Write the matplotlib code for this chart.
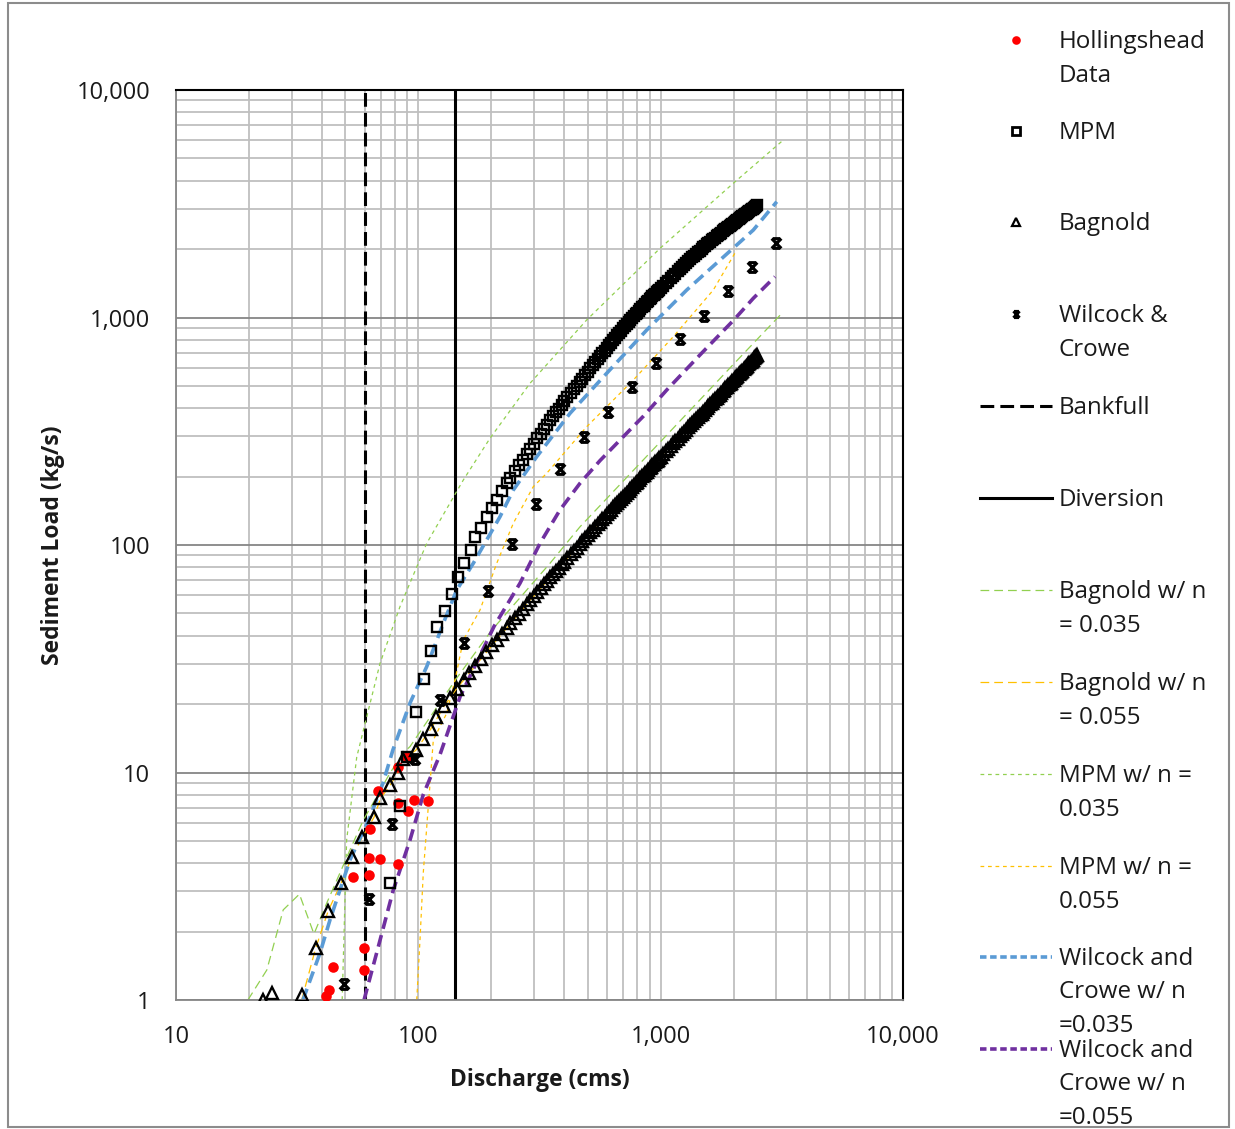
import matplotlib
matplotlib.use("Agg")
import matplotlib.pyplot as plt
from matplotlib.lines import Line2D
from matplotlib.patches import Rectangle
from matplotlib.path import Path
from matplotlib.ticker import FixedLocator, FuncFormatter, NullFormatter

# ---------------- data ----------------
# Measured sediment load (Hollingshead)
holl_q = [68.4, 82.2, 90.0, 82.6, 90.9, 95.9, 109.3, 63.2, 62.8, 69.5, 82.2,
          53.9, 62.8, 59.8, 59.8, 44.6, 42.6, 41.7]
holl_load = [8.32, 10.6, 11.7, 7.32, 6.79, 7.57, 7.47, 5.63, 4.22, 4.18, 3.96,
             3.46, 3.54, 1.69, 1.355, 1.39, 1.11, 1.04]

# Discharge steps shared by the MPM and Bagnold computed series
q_steps = [240, 250, 260, 270, 280, 290, 300, 310, 320, 330, 340, 350, 360,
           370, 380, 390, 400,
           412.5, 425, 437.5, 450, 462.5, 475, 487.5, 500, 512.5, 525, 537.5,
           550, 562.5, 575, 587.5, 600, 612.5, 625, 637.5, 650, 662.5, 675,
           687.5, 700, 712.5, 725, 737.5, 750, 762.5, 775, 787.5, 800, 812.5,
           825, 837.5, 850, 862.5, 875, 887.5, 900, 912.5, 925, 937.5, 950,
           962.5, 975, 987.5, 1000,
           1025, 1050, 1075, 1100, 1125, 1150, 1175, 1200, 1225, 1250, 1275,
           1300, 1325, 1350, 1375, 1400, 1425, 1450, 1475, 1500, 1525, 1550,
           1575, 1600, 1625, 1650, 1675, 1700, 1725, 1750, 1775, 1800, 1825,
           1850, 1875, 1900, 1925, 1950, 1975, 2000, 2025, 2050, 2075, 2100,
           2125, 2150, 2175, 2200, 2225, 2250, 2275, 2300, 2325, 2350, 2375,
           2400, 2425, 2450, 2475, 2500]

# Meyer-Peter Muller
mpm_q_low = [76.4, 84.0, 90.0, 97.8, 105.5, 112.8, 119.4, 128.8, 137.7, 145.8,
             154.3, 165.0, 171.3, 181.4, 191.4, 202.0, 210.6, 220.8, 231.6]
mpm_load = [3.27, 7.1, 11.7, 18.5, 25.8, 34.2, 43.6, 51.3, 60.9, 72.3,
            83.4, 95.1, 108.3, 118.4, 132.4, 145, 157.7, 173.3, 186.7,
            198, 211, 224, 237, 250.5, 264.6, 279, 294, 309, 323.5, 338, 353,
            368, 382.6, 397.5, 412.5, 427.5,
            445.8, 464, 482.8, 501.5, 520.3, 539, 558.5, 578, 597.5, 617,
            636.5, 656, 676, 696, 716, 736, 756, 776, 795.5, 815, 835, 855,
            875, 895, 914.5, 934, 953.5, 973, 992.5, 1012, 1031.5, 1051,
            1069.5, 1088, 1107, 1126, 1145, 1164, 1182.5, 1201, 1219, 1237,
            1255, 1273, 1291, 1309, 1327.5, 1346,
            1382, 1418, 1453.5, 1489, 1524.5, 1560, 1595.5, 1631, 1666.5, 1702,
            1736, 1770, 1804, 1838, 1872, 1906, 1938, 1970, 2001, 2032,
            2063.5, 2095, 2125.5, 2156, 2185.5, 2215, 2244.5, 2274, 2303.5,
            2333, 2361, 2389, 2416.5, 2444, 2471, 2498, 2525, 2552, 2578.5,
            2605, 2631, 2657, 2683, 2709, 2734.5, 2760, 2785.5, 2811, 2836.5,
            2862, 2887.5, 2913, 2938, 2963, 2987.5, 3012, 3036.5, 3061, 3085,
            3109]

# Bagnold
bag_q_low = [22.9, 24.8, 33.0, 37.7, 42.5, 48.1, 53.1, 58.7, 65.6, 69.8, 76.4,
             82.2, 86.5, 97.5, 104.8, 112.4, 118.2, 128.0, 135.2, 144.0,
             154, 162, 171, 181, 191, 202, 211, 221, 232]
bag_load = [1.0, 1.07, 1.05, 1.69, 2.47, 3.28, 4.24, 5.19, 6.35, 7.69, 8.77,
            9.95, 11.5, 12.5, 14.0, 15.5, 17.5, 19.6, 21.2, 23.4,
            25.6, 27.3, 29.3, 31.5, 33.8, 36.3, 38.4, 40.7, 43.3,
            45.2, 47.6, 49.9, 52.4, 54.8, 57.2, 59.7, 62.1, 64.6, 67.1, 69.6,
            72.1, 74.6, 77.0, 79.6, 82.1, 84.6,
            87.8, 91.0, 94.2, 97.4, 100.6, 103.9, 107.1, 110.4, 113.6, 116.8,
            120.0, 123.3, 126.5, 129.8, 133.1, 136.4, 139.7, 143.0, 146.3,
            149.6, 152.9, 156.3, 159.7, 163.1, 166.4, 169.7, 173.0, 176.4,
            179.8, 183.2, 186.5, 189.9, 193.3, 196.7, 200.1, 203.5, 206.9,
            210.3, 213.7, 217.1, 220.5, 223.9, 227.3, 230.7, 234.1, 237.5,
            241.2, 244.9,
            251.7, 258.6, 265.5, 272.5, 279.4, 286.4, 293.4, 300.5, 307.5,
            314.5, 321.5, 328.6, 335.6, 342.7, 349.8, 356.9, 364.1, 371.3,
            378.4, 385.6, 392.8, 400.0, 407.3, 414.6, 421.8, 429.1, 436.3,
            443.6, 451.0, 458.3, 465.6, 473.0, 480.4, 487.9, 495.2, 502.6,
            510.0, 517.3, 524.7, 532.1, 539.6, 547.2, 554.7, 562.2, 569.6,
            577.1, 584.6, 592.2, 599.7, 607.3, 614.8, 622.3, 629.9, 637.6,
            645.1, 652.7, 660.4, 668.1, 675.7, 683.3]

mpm_q = mpm_q_low + q_steps
bag_q = bag_q_low + q_steps

# Wilcock & Crowe
wc_q = [49.3, 62.6, 77.6, 96.9, 122.9, 154, 194, 243.6, 306, 385, 483, 604,
        758, 956, 1199, 1510, 1893, 2381, 2995]
wc_load = [1.18, 2.77, 5.92, 11.5, 20.8, 37.1, 62.8, 101, 151, 216, 299, 386,
           497, 632, 806, 1020, 1309, 1663, 2127]

# Reference discharges
bankfull_q = 60.0
diversion_q = 141.6

# Sensitivity runs with Manning's n
bag035_q = [19.8, 23.7, 27.7, 32.3, 37.1, 41.9, 47.5, 52.2, 59.3, 67.3, 76.4,
            86.7, 92.4, 144, 200, 349.4, 464.8, 1000, 2000, 3208]
bag035_load = [1.0, 1.355, 2.49, 2.92, 1.95, 2.67, 3.62, 4.56, 6.18, 7.83,
               9.95, 12.2, 13.0, 26.0, 42.0, 83.1, 120.3, 285, 624, 1060]

bag055_q = [33.0, 37.7, 42.5, 48.1, 53.1, 58.7, 65.6, 69.8, 76.4, 82.2, 86.5,
            97.5, 112.4, 128.0, 144.0, 202, 300, 500, 1000, 2000, 2500]
bag055_load = [1.0, 1.69, 2.47, 3.28, 4.24, 5.19, 6.35, 7.69, 8.77, 9.95,
               11.5, 12.5, 15.5, 19.6, 23.4, 36.3, 59.7, 110.4, 244.9, 532.1,
               683.3]

mpm035_q = [48.5, 50.6, 55.7, 69.5, 84.0, 108.3, 153.3, 197.6, 289, 495, 994,
            1994, 3208]
mpm035_load = [1.0, 5.05, 11.7, 30.2, 53.6, 101.7, 193, 294.6, 513.8, 975,
               2014, 3890, 6028]

mpm055_q = [98.5, 101.6, 104.8, 109.9, 115.3, 130.9, 141.7, 153.3, 179.7,
            210.6, 246.6, 298, 338.6, 495, 771, 1127, 1649, 2060]
mpm055_load = [1.0, 1.84, 3.62, 7.07, 13.9, 18.2, 25.5, 38.2, 51.8, 83.1,
               124.6, 180.4, 206.6, 331, 531, 823, 1321, 1980]

wc035_q = [33.4, 39.3, 43.2, 52.2, 63.2, 71.5, 78.6, 92.4, 108.3, 126.8, 144,
           168.6, 191.4, 217.3, 246.6, 308, 422.7, 598.8, 875.9, 1281, 1758,
           2412, 3013]
wc035_load = [1.0, 1.61, 2.25, 4.12, 6.39, 8.99, 12.6, 20.2, 29.2, 45.3, 63.4,
              83.1, 105.2, 133.2, 174.5, 244.5, 379.3, 568.6, 881, 1321, 1789,
              2424, 3228]

wc055_q = [59.7, 67.3, 78.8, 92.4, 104.8, 122.9, 148.6, 205.6, 262.7, 317.7,
           384, 464.5, 562, 771, 848, 1059, 1453, 1994, 2412, 2963]
wc055_load = [1.0, 1.61, 3.04, 5.05, 8.0, 12.0, 21.5, 44, 67.9, 101.7, 142.5,
              186.7, 235, 332, 368, 480, 685, 970, 1215, 1511]

x_ticks = [10, 100, 1000, 10000]
y_ticks = [1, 10, 100, 1000, 10000]

# ---------------- style ----------------
W, H = 1235, 1129
FONT = ["Open Sans", "DejaVu Sans"]
plt.rcParams["font.family"] = FONT

GREEN = "#92D050"
ORANGE = "#FFC000"
BLUE = "#5B9BD5"
PURPLE = "#7030A0"
TEXT = "#1a1a1a"

fig = plt.figure(figsize=(W / 100, H / 100), dpi=100)
fig.patch.set_facecolor("white")


def fx(px):
    return px / W


def fy(py):
    return 1 - py / H


ax = fig.add_axes([fx(176), fy(1000), (903 - 176) / W, (1000 - 90) / H])
ax.set_xscale("log")
ax.set_yscale("log")
ax.set_xlim(10, 10000)
ax.set_ylim(1, 10000)

# grid
ax.xaxis.set_major_locator(FixedLocator(x_ticks))
ax.yaxis.set_major_locator(FixedLocator(y_ticks))
minor_vals = [m * 10 ** e for e in range(0, 5) for m in range(2, 10)]
ax.xaxis.set_minor_locator(FixedLocator(minor_vals))
ax.yaxis.set_minor_locator(FixedLocator(minor_vals))
ax.xaxis.set_minor_formatter(NullFormatter())
ax.yaxis.set_minor_formatter(NullFormatter())
ax.grid(which="minor", axis="both", color="#BFBFBF", lw=1.3, zorder=0)
ax.grid(which="major", axis="x", color="#BFBFBF", lw=1.3, zorder=0)
ax.grid(which="major", axis="y", color="#868686", lw=1.3, zorder=0)
ax.set_axisbelow(True)

fmt = FuncFormatter(lambda v, p: f"{v:,.0f}")
ax.xaxis.set_major_formatter(fmt)
ax.yaxis.set_major_formatter(fmt)
ax.tick_params(which="both", length=0)
ax.tick_params(axis="x", pad=18, labelsize=17, labelcolor=TEXT)
ax.tick_params(axis="y", pad=18.5, labelsize=17, labelcolor=TEXT)

for side in ("left", "bottom"):
    ax.spines[side].set_color("#868686")
    ax.spines[side].set_linewidth(1.3)
for side in ("top", "right"):
    ax.spines[side].set_color("black")
    ax.spines[side].set_linewidth(1.5)

ax.set_xlabel("Discharge (cms)", fontsize=16.5, fontweight="bold",
              color=TEXT, labelpad=14)
ax.set_ylabel("Sediment Load (kg/s)", fontsize=16.5, fontweight="bold",
              color=TEXT, labelpad=8)

# hourglass-cross marker used for Wilcock & Crowe
wc_marker = Path(
    [(-1, -1), (1, 1), (-1, 1), (1, -1), (-0.75, 1), (0.75, 1),
     (-0.75, -1), (0.75, -1)],
    [Path.MOVETO, Path.LINETO, Path.MOVETO, Path.LINETO,
     Path.MOVETO, Path.LINETO, Path.MOVETO, Path.LINETO])

# ---------------- lines ----------------
ax.axvline(bankfull_q, color="black", lw=2.2, dashes=(4.5, 2.0), zorder=2)
ax.axvline(diversion_q, color="black", lw=2.2, zorder=2)

ax.plot(bag035_q, bag035_load, color=GREEN, lw=0.9, dashes=(7, 4), zorder=2)
ax.plot(bag055_q, bag055_load, color=ORANGE, lw=0.9, dashes=(7, 4), zorder=2)
ax.plot(mpm035_q, mpm035_load, color=GREEN, lw=0.9, dashes=(3, 3), zorder=2)
ax.plot(mpm055_q, mpm055_load, color=ORANGE, lw=0.9, dashes=(3, 3), zorder=2)
ax.plot(wc035_q, wc035_load, color=BLUE, lw=2.6, dashes=(3.3, 1.8), zorder=2)
ax.plot(wc055_q, wc055_load, color=PURPLE, lw=2.6, dashes=(3.3, 1.8), zorder=2)

# ---------------- markers ----------------
ax.plot(holl_q, holl_load, ls="none", marker="o", ms=7.6, mfc="#FF0000",
        mec="#FF0000", mew=0, zorder=3)
ax.plot(mpm_q, mpm_load, ls="none", marker="s", ms=7.0, mfc="none",
        mec="black", mew=1.7, zorder=3)
ax.plot(bag_q, bag_load, ls="none", marker="^", ms=8.6, mfc="none",
        mec="black", mew=1.7, zorder=3)
ax.plot(wc_q, wc_load, ls="none", marker=wc_marker, ms=7.0, mec="black",
        mew=2.2, zorder=3)

# ---------------- legend (drawn in figure space) ----------------
legend_items = [
    ("marker", ["Hollingshead", "Data"], 40),
    ("marker", ["MPM"], 131),
    ("marker", ["Bagnold"], 222),
    ("marker", ["Wilcock &", "Crowe"], 314),
    ("line", ["Bankfull"], 406),
    ("line", ["Diversion"], 498),
    ("line", ["Bagnold w/ n", "= 0.035"], 590),
    ("line", ["Bagnold w/ n", "= 0.055"], 682),
    ("line", ["MPM w/ n =", "0.035"], 774),
    ("line", ["MPM w/ n =", "0.055"], 866),
    ("line", ["Wilcock and", "Crowe w/ n", "=0.035"], 957),
    ("line", ["Wilcock and", "Crowe w/ n", "=0.055"], 1049),
]
marker_styles = [
    dict(marker="o", ms=6.2, mfc="#FF0000", mec="#FF0000", mew=0),
    dict(marker="s", ms=5.2, mfc="none", mec="black", mew=2.0),
    dict(marker="^", ms=6.4, mfc="none", mec="black", mew=1.6),
    dict(marker=wc_marker, ms=4.6, mec="black", mew=2.0),
]
line_styles = [
    dict(color="black", lw=2.2, dashes=(4.5, 2.0)),
    dict(color="black", lw=2.2),
    dict(color=GREEN, lw=0.9, dashes=(7, 4)),
    dict(color=ORANGE, lw=0.9, dashes=(7, 4)),
    dict(color=GREEN, lw=0.9, dashes=(3, 3)),
    dict(color=ORANGE, lw=0.9, dashes=(3, 3)),
    dict(color=BLUE, lw=2.6, dashes=(1.8, 1.0)),
    dict(color=PURPLE, lw=2.6, dashes=(1.8, 1.0)),
]
mi = li = 0
for kind, lines, yc in legend_items:
    if kind == "marker":
        fig.add_artist(Line2D([fx(1016)], [fy(yc)], ls="none",
                              **marker_styles[mi]))
        mi += 1
    else:
        fig.add_artist(Line2D([fx(980), fx(1052)], [fy(yc), fy(yc)],
                              **line_styles[li]))
        li += 1
    for k, t in enumerate(lines):
        fig.text(fx(1059), fy(yc + 2 + 33.5 * k), t, fontsize=17.4,
                 color=TEXT, ha="left", va="center")

# chart border
fig.add_artist(Rectangle((fx(8), fy(1127)), fx(1229) - fx(8),
                         fy(3) - fy(1127), fill=False, ec="#8c8c8c", lw=1.5))

fig.savefig("out.png", dpi=100, facecolor="white")
